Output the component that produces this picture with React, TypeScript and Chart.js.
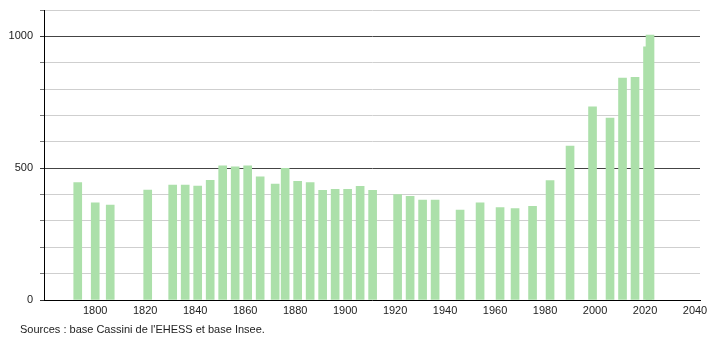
import React, { useEffect, useRef } from 'react';
import { Chart, registerables } from 'chart.js';

Chart.register(...registerables);

const censusYears = [
  1793, 1800, 1806, 1821, 1831, 1836, 1841, 1846, 1851, 1856, 1861, 1866, 1872,
  1876, 1881, 1886, 1891, 1896, 1901, 1906, 1911, 1921, 1926, 1931, 1936, 1946,
  1954, 1962, 1968, 1975, 1982, 1990, 1999, 2006, 2011, 2016, 2021, 2022,
];
const population = [
  445, 369, 360, 417, 436, 436, 432, 454, 509, 505, 509, 467, 440,
  499, 450, 445, 416, 420, 420, 431, 416, 400, 393, 379, 379, 341,
  369, 351, 347, 355, 453, 584, 733, 690, 842, 845, 960, 1005,
];
const xTickYears = [1800, 1820, 1840, 1860, 1880, 1900, 1920, 1940, 1960, 1980, 2000, 2020, 2040];
const yGridValues = [0, 100, 200, 300, 400, 500, 600, 700, 800, 900, 1000, 1100];
const yLabelValues = [0, 500, 1000];
const sourceText = "Sources : base Cassini de l'EHESS et base Insee.";

const FONT = '"Liberation Sans", Arial, Helvetica, sans-serif';

export default function App() {
  const ref = useRef<HTMLCanvasElement>(null);

  useEffect(() => {
    document.body.style.margin = '0';
    const sourcePlugin = {
      id: 'sourceText',
      afterDraw(chart: any) {
        const ctx = chart.ctx;
        ctx.save();
        ctx.font = `11px ${FONT}`;
        ctx.fillStyle = '#222';
        ctx.textBaseline = 'middle';
        ctx.textAlign = 'left';
        ctx.fillText(sourceText, 20, 330);
        ctx.restore();
      },
    };

    const chart = new Chart(ref.current as HTMLCanvasElement, {
      type: 'bar',
      data: {
        datasets: [
          {
            data: censusYears.map((yr, i) => ({ x: yr, y: population[i] })),
            backgroundColor: 'rgb(172,224,170)',
            borderWidth: 0,
            barThickness: 8,
          } as any,
        ],
      },
      options: {
        animation: false,
        responsive: false,
        maintainAspectRatio: false,
        layout: { padding: { top: 10, right: 10, left: 0, bottom: 0 } },
        plugins: {
          legend: { display: false },
          tooltip: { enabled: false },
        },
        scales: {
          x: {
            type: 'linear',
            offset: false,
            min: 1779.5,
            max: 2042,
            grid: { display: false, drawTicks: false, offset: false },
            border: { display: true, color: '#000', width: 1 },
            afterBuildTicks: (s: any) => {
              s.ticks = xTickYears.map((v) => ({ value: v }));
            },
            afterFit: (s: any) => {
              s.height = 40;
              s.paddingLeft = 0;
              s.paddingRight = 0;
            },
            ticks: {
              padding: 4,
              autoSkip: false,
              maxRotation: 0,
              color: '#222',
              font: { size: 11, family: FONT },
              callback: (v: any) => String(v),
            },
          },
          y: {
            min: 0,
            max: 1100,
            afterBuildTicks: (s: any) => {
              s.ticks = yGridValues.map((v) => ({ value: v }));
            },
            afterFit: (s: any) => {
              s.width = 44;
              s.paddingTop = 0;
              s.paddingBottom = 0;
            },
            grid: {
              color: (c: any) =>
                c.tick && c.tick.value > 0 && c.tick.value % 500 === 0 ? '#444' : '#cfcfcf',
              tickColor: (c: any) =>
                c.tick && c.tick.value % 500 === 0 ? '#333' : '#777',
              tickLength: 4,
              drawTicks: true,
            },
            border: { display: true, color: '#000', width: 1 },
            ticks: {
              padding: 7,
              autoSkip: false,
              color: '#222',
              font: { size: 11, family: FONT },
              callback: (v: any) => (yLabelValues.includes(v) ? String(v) : ''),
            },
          },
        },
      } as any,
      plugins: [sourcePlugin],
    });
    return () => chart.destroy();
  }, []);

  return (
    <canvas
      ref={ref}
      width={710}
      height={340}
      style={{ display: 'block', width: 710, height: 340 }}
    />
  );
}
